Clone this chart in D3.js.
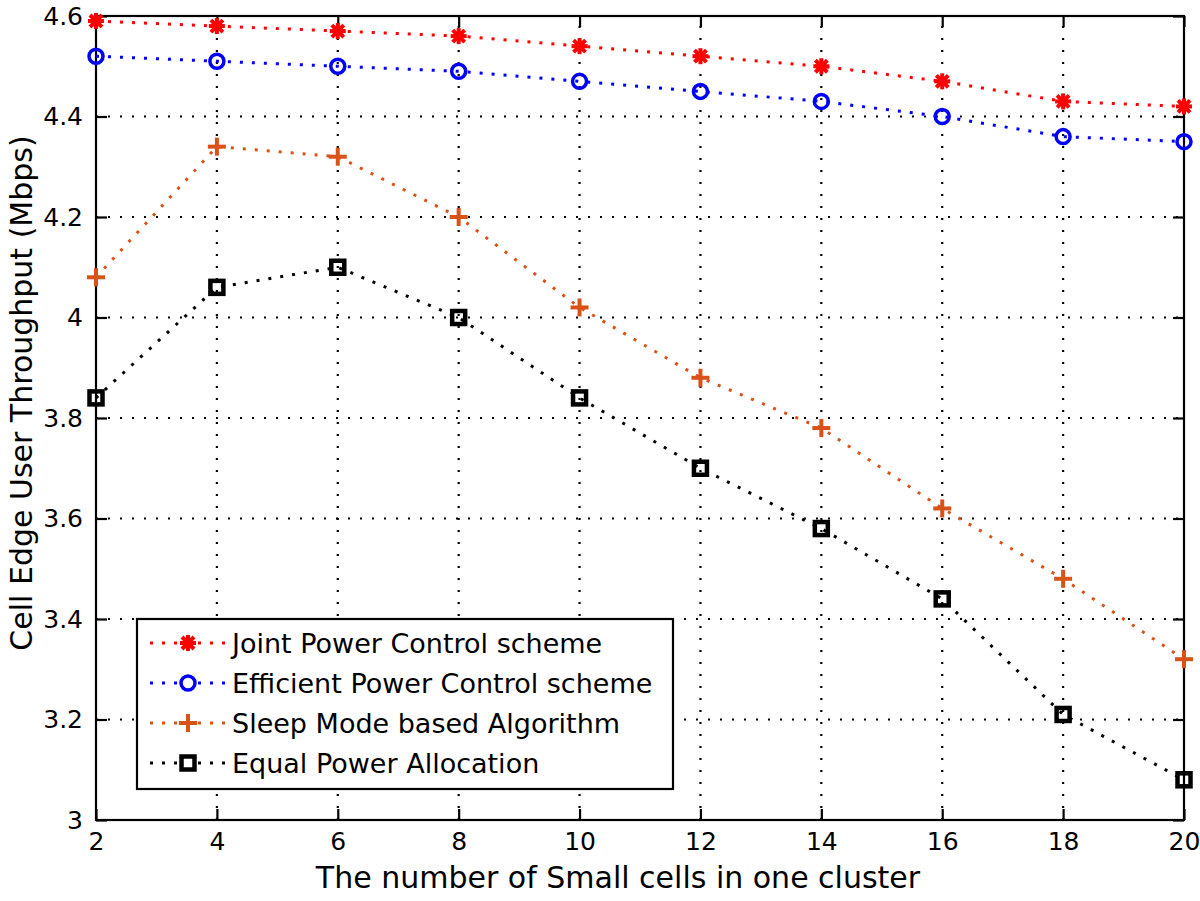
<!DOCTYPE html>
<html><head><meta charset="utf-8">
<script src="https://cdn.jsdelivr.net/npm/d3@7"></script>
<style>body{margin:0;background:#fff}svg{display:block}text{font-family:"DejaVu Sans",sans-serif;fill:#000}</style>
</head><body>
<svg id="c" width="1200" height="901"></svg>
<script>
const xValues = [2,4,6,8,10,12,14,16,18,20];
const jointPower = [4.59,4.58,4.57,4.56,4.54,4.52,4.50,4.47,4.43,4.42];
const efficientPower = [4.52,4.51,4.50,4.49,4.47,4.45,4.43,4.40,4.36,4.35];
const sleepMode = [4.08,4.34,4.32,4.20,4.02,3.88,3.78,3.62,3.48,3.32];
const equalPower = [3.84,4.06,4.10,4.00,3.84,3.70,3.58,3.44,3.21,3.08];
const seriesNames = ["Joint Power Control scheme","Efficient Power Control scheme","Sleep Mode based Algorithm","Equal Power Allocation"];
const xTicks = [2,4,6,8,10,12,14,16,18,20];
const yTicks = [3,3.2,3.4,3.6,3.8,4,4.2,4.4,4.6];
const xLabel = "The number of Small cells in one cluster";
const yLabel = "Cell Edge User Throughput (Mbps)";

const series = [
  {name: seriesNames[0], values: jointPower, color: "#ff0000", marker: "star"},
  {name: seriesNames[1], values: efficientPower, color: "#0000ff", marker: "circle"},
  {name: seriesNames[2], values: sleepMode, color: "#d95319", marker: "plus"},
  {name: seriesNames[3], values: equalPower, color: "#000000", marker: "square"}
];

const L = 96, R = 1184, T = 16, B = 820;
const svg = d3.select("#c");
const x = d3.scaleLinear().domain([2,20]).range([L,R]);
const y = d3.scaleLinear().domain([3,4.6]).range([B,T]);

// grid
const g = svg.append("g");
g.selectAll(".gx").data(xTicks.slice(1,-1)).join("line")
  .attr("x1", d=>x(d)).attr("x2", d=>x(d)).attr("y1", B).attr("y2", T)
  .attr("stroke","#000").attr("stroke-width",2.2).attr("stroke-dasharray","2,10");
g.selectAll(".gy").data(yTicks.slice(1,-1)).join("line")
  .attr("y1", d=>y(d)).attr("y2", d=>y(d)).attr("x1", L).attr("x2", R)
  .attr("stroke","#000").attr("stroke-width",2.2).attr("stroke-dasharray","2,10");

// axes
const tl = 11;
const axB = d3.axisBottom(x).tickValues(xTicks).tickSizeInner(-tl).tickSizeOuter(0).tickPadding(12).tickFormat(d3.format("d"));
const axL = d3.axisLeft(y).tickValues(yTicks).tickSizeInner(-tl).tickSizeOuter(0).tickPadding(13).tickFormat(d=>d3.format("")(+d.toFixed(1)));
const axT = d3.axisTop(x).tickValues(xTicks).tickSizeInner(-tl).tickSizeOuter(0).tickFormat("");
const axR = d3.axisRight(y).tickValues(yTicks).tickSizeInner(-tl).tickSizeOuter(0).tickFormat("");
function style(sel){
  sel.select(".domain").remove();
  sel.selectAll(".tick line").attr("stroke","#000").attr("stroke-width",2.2);
  sel.selectAll(".tick text").attr("font-family","DejaVu Sans").attr("font-size",25).attr("fill","#000");
}
svg.append("g").attr("transform",`translate(0,${B})`).call(axB).call(style);
svg.append("g").attr("transform",`translate(${L},0)`).call(axL).call(style);
svg.append("g").attr("transform",`translate(0,${T})`).call(axT).call(style);
svg.append("g").attr("transform",`translate(${R},0)`).call(axR).call(style);
svg.append("rect").attr("x",L).attr("y",T).attr("width",R-L).attr("height",B-T)
  .attr("fill","none").attr("stroke","#000").attr("stroke-width",2.2);

// markers
function drawMarker(sel, type, color){
  if(type==="star"){
    const s=8;
    [[0,-s,0,s],[-s,0,s,0],[-s*0.75,-s*0.75,s*0.75,s*0.75],[-s*0.75,s*0.75,s*0.75,-s*0.75]].forEach(c=>{
      sel.append("line").attr("x1",c[0]).attr("y1",c[1]).attr("x2",c[2]).attr("y2",c[3])
        .attr("stroke",color).attr("stroke-width",4);
    });
    sel.append("circle").attr("r",5).attr("fill",color);
  } else if(type==="circle"){
    sel.append("circle").attr("r",7).attr("fill","none").attr("stroke",color).attr("stroke-width",3.5);
  } else if(type==="plus"){
    const s=9;
    sel.append("line").attr("x1",-s).attr("x2",s).attr("y1",0).attr("y2",0).attr("stroke",color).attr("stroke-width",4);
    sel.append("line").attr("y1",-s).attr("y2",s).attr("x1",0).attr("x2",0).attr("stroke",color).attr("stroke-width",4);
  } else if(type==="square"){
    sel.append("rect").attr("x",-6.5).attr("y",-6.5).attr("width",13).attr("height",13)
      .attr("fill","none").attr("stroke",color).attr("stroke-width",4.5);
  }
}

const line = d3.line().x((d,i)=>x(xValues[i])).y(d=>y(d));
series.forEach(s=>{
  svg.append("path").attr("d", line(s.values)).attr("fill","none")
    .attr("stroke", s.color).attr("stroke-width",3).attr("stroke-dasharray","3,9");
  s.values.forEach((v,i)=>{
    const m = svg.append("g").attr("transform",`translate(${x(xValues[i])},${y(v)})`);
    drawMarker(m, s.marker, s.color);
  });
});

// legend
const lg = svg.append("g");
lg.append("rect").attr("x",137).attr("y",619).attr("width",536).attr("height",170)
  .attr("fill","#fff").attr("stroke","#000").attr("stroke-width",2.2);
series.forEach((s,i)=>{
  const cy = 643 + i*40;
  lg.append("line").attr("x1",150).attr("x2",228).attr("y1",cy).attr("y2",cy)
    .attr("stroke",s.color).attr("stroke-width",3).attr("stroke-dasharray","3,9");
  const m = lg.append("g").attr("transform",`translate(188,${cy})`);
  m.append("rect").attr("x",-10).attr("y",-10).attr("width",20).attr("height",20).attr("fill","#fff");
  drawMarker(m, s.marker, s.color);
  lg.append("text").attr("x",232).attr("y",cy+10).attr("font-size",27).text(s.name);
});

// labels
svg.append("text").attr("x",618).attr("y",888).attr("text-anchor","middle").attr("font-size",30).text(xLabel);
svg.append("text").attr("transform","translate(32,393) rotate(-90)").attr("text-anchor","middle").attr("font-size",30).text(yLabel);
</script>
</body></html>
